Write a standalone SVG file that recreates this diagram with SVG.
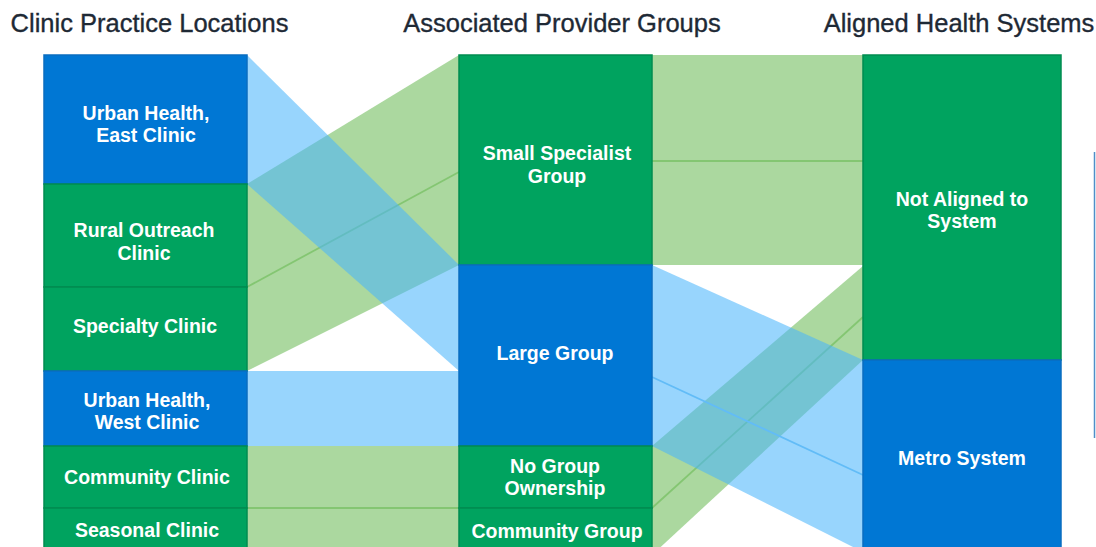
<svg xmlns="http://www.w3.org/2000/svg" width="1096" height="547" viewBox="0 0 1096 547">
<style>
.hdr{font-family:"Liberation Sans",Arial,sans-serif;font-size:25.5px;fill:#1e2935;stroke:#1e2935;stroke-width:0.35;text-anchor:middle}
.lbl{font-family:"Liberation Sans",Arial,sans-serif;font-size:19.5px;font-weight:bold;fill:#ffffff;text-anchor:middle}
.ng{fill:#00a35f;stroke:#008c50;stroke-width:1.5}
.nb{fill:#0077d4;stroke:#0a6dc0;stroke-width:1.5}
.fg{fill:#6cba57;fill-opacity:0.57}
.fb{fill:#49b6fb;fill-opacity:0.57}
.lg{stroke:#84c672;stroke-width:1.8;fill:none}
.lb{stroke:#62bcf7;stroke-width:1.8;fill:none}
</style>
<rect width="1096" height="547" fill="#ffffff"/>
<g id="headers">
<text class="hdr" x="149.5" y="32">Clinic Practice Locations</text>
<text class="hdr" x="562" y="32">Associated Provider Groups</text>
<text class="hdr" x="959" y="32">Aligned Health Systems</text>
</g>
<g id="connectors">
<polygon class="fg" points="247,184 459,55 459,172 247,287"/>
<polygon class="fg" points="247,287 459,172 459,265 247,371"/>
<polygon class="fg" points="247,446 459,446 459,508 247,508"/>
<polygon class="fg" points="247,508 459,508 459,560 247,560"/>
<polygon class="fg" points="652,55 863,55 863,161 652,161"/>
<polygon class="fg" points="652,161 863,161 863,265 652,265"/>
<polygon class="fg" points="652,446 863,266 863,317 652,508"/>
<polygon class="fg" points="652,508 863,317 863,360 652,555"/>
<line class="lg" x1="247" y1="287" x2="459" y2="172"/>
<line class="lg" x1="652" y1="161" x2="863" y2="161"/>
<line class="lg" x1="247" y1="508" x2="459" y2="508"/>
<line class="lg" x1="652" y1="508" x2="863" y2="317"/>
<polygon class="fb" points="247,55 459,265 459,371 247,184"/>
<polygon class="fb" points="247,371 459,371 459,446 247,446"/>
<polygon class="fb" points="652,265 863,360 863,475 652,377"/>
<polygon class="fb" points="652,377 863,475 863,552 652,446"/>
<line class="lb" x1="652" y1="377" x2="863" y2="475"/>
</g>
<g id="node-urban-east"><rect class="nb" x="44" y="55" width="203" height="129"/><text class="lbl" x="146" y="120">Urban Health,</text><text class="lbl" x="146" y="142">East Clinic</text></g>
<g id="node-rural-outreach"><rect class="ng" x="44" y="184" width="203" height="103"/><text class="lbl" x="144" y="237">Rural Outreach</text><text class="lbl" x="144" y="260">Clinic</text></g>
<g id="node-specialty"><rect class="ng" x="44" y="287" width="203" height="84"/><text class="lbl" x="145" y="333">Specialty Clinic</text></g>
<g id="node-urban-west"><rect class="nb" x="44" y="371" width="203" height="75"/><text class="lbl" x="147" y="407">Urban Health,</text><text class="lbl" x="147" y="429">West Clinic</text></g>
<g id="node-community-clinic"><rect class="ng" x="44" y="446" width="203" height="62"/><text class="lbl" x="147" y="484">Community Clinic</text></g>
<g id="node-seasonal"><rect class="ng" x="44" y="508" width="203" height="50"/><text class="lbl" x="147" y="537">Seasonal Clinic</text></g>
<g id="node-small-specialist"><rect class="ng" x="459" y="55" width="193" height="210"/><text class="lbl" x="557" y="160">Small Specialist</text><text class="lbl" x="557" y="183">Group</text></g>
<g id="node-large-group"><rect class="nb" x="459" y="265" width="193" height="181"/><text class="lbl" x="555" y="360">Large Group</text></g>
<g id="node-no-group"><rect class="ng" x="459" y="446" width="193" height="62"/><text class="lbl" x="555" y="473">No Group</text><text class="lbl" x="555" y="495">Ownership</text></g>
<g id="node-community-group"><rect class="ng" x="459" y="508" width="193" height="50"/><text class="lbl" x="557" y="538">Community Group</text></g>
<g id="node-not-aligned"><rect class="ng" x="863" y="55" width="198" height="305"/><text class="lbl" x="962" y="206">Not Aligned to</text><text class="lbl" x="962" y="228">System</text></g>
<g id="node-metro"><rect class="nb" x="863" y="360" width="198" height="200"/><text class="lbl" x="962" y="465">Metro System</text></g>
<line x1="1094.5" y1="152" x2="1094.5" y2="438" stroke="#4f8fc8" stroke-width="1.5"/>
</svg>
